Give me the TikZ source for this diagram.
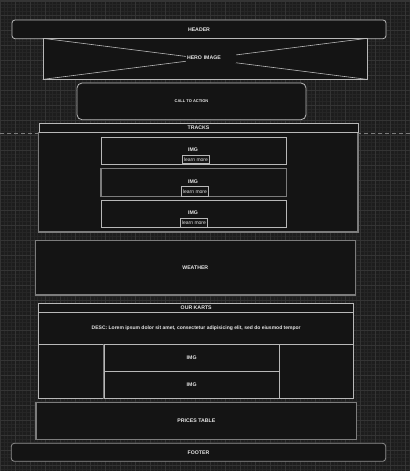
\documentclass[tikz,border=0pt]{standalone}
\usepackage{fontspec}
\setmainfont{Liberation Sans}
\begin{document}
\definecolor{canvas}{HTML}{1D1D1D}
\definecolor{gridminor}{HTML}{262626}
\definecolor{gridmajor}{HTML}{343434}
\definecolor{boxfill}{HTML}{141414}
\definecolor{edgelight}{HTML}{B8B8B8}
\definecolor{edgegray}{HTML}{7C7C7C}
\definecolor{labelcol}{HTML}{E6E6E6}
\begin{tikzpicture}[x=1pt,y=-1pt,
  frame/.style={draw=edgelight, line width=0.8pt, fill=boxfill, inner sep=0pt,
    font=\bfseries\fontsize{5.2}{6}\selectfont, text=labelcol},
  heavyframe/.style={frame, draw=edgegray, line width=1.4pt},
  roundframe/.style={frame, rounded corners=3pt},
  button/.style={draw=edgelight, line width=0.6pt, fill=boxfill, inner sep=0pt,
    font=\fontsize{5}{6}\selectfont, text=labelcol},
  caption/.style={font=\bfseries\fontsize{5.2}{6}\selectfont, text=labelcol, inner sep=0pt},
  fold/.style={draw=edgegray, line width=0.8pt, dash pattern=on 4pt off 3pt}]
% canvas and grid
\fill[canvas] (0,0) rectangle (410,471);
\useasboundingbox (0,0) rectangle (410,471);
\draw[gridminor, line width=0.3pt, step=3.75pt] (0,0) grid (410,471);
\draw[gridmajor, line width=0.4pt, step=15pt] (0,0) grid (410,471);
\draw[gridmajor, line width=1pt] (0,1.5) -- (410,1.5);
% fold line
\coordinate (foldL) at (0,133.3);
\coordinate (foldR) at (410,133.3);
\draw[fold] (foldL) -- (foldR);
% header
\node[roundframe, minimum width=374pt, minimum height=18.7pt] (header) at (199,29.35) {HEADER};
% hero image with cross
\node[frame, minimum width=324pt, minimum height=40.3pt] (hero) at (205,58.85) {};
\draw[edgelight, line width=0.6pt] (hero.north west) -- (hero.south east);
\draw[edgelight, line width=0.6pt] (hero.south west) -- (hero.north east);
\node[caption, fill=boxfill, text width=48pt, inner xsep=1pt, inner ysep=3pt, align=left] (herolabel) at (211,58) {HERO IMAGE};
% call to action
\node[frame, rounded corners=5pt, minimum width=229pt, minimum height=36.7pt,
  font=\bfseries\fontsize{4}{5}\selectfont] (cta) at (191.5,101.35) {CALL TO ACTION};
% tracks
\node[heavyframe, minimum width=319.3pt, minimum height=99.3pt] (tracks) at (198.35,182.35) {};
\node[frame, minimum width=319pt, minimum height=9pt] (trackshead) at (198.5,128.2) {TRACKS};
\node[frame, minimum width=185.7pt, minimum height=27pt] (trackA) at (193.85,150.8) {};
\node[heavyframe, minimum width=185.7pt, minimum height=27.6pt] (trackB) at (193.85,182.5) {};
\node[frame, minimum width=185.7pt, minimum height=27.4pt] (trackC) at (193.85,214) {};
\node[caption] (imgA) at (193,150) {IMG};
\node[caption] (imgB) at (193,182) {IMG};
\node[caption] (imgC) at (193,213) {IMG};
\node[button, minimum width=27.4pt, minimum height=8.4pt] (moreA) at (196,159.5) {learn more};
\node[button, minimum width=27.4pt, minimum height=9.6pt] (moreB) at (195,191.5) {learn more};
\node[button, minimum width=27.4pt, minimum height=9pt] (moreC) at (194,222.8) {learn more};
% weather
\node[heavyframe, minimum width=320pt, minimum height=54.3pt] (weather) at (195.3,267.85) {WEATHER};
% our karts
\node[frame, minimum width=315pt, minimum height=9pt] (kartshead) at (196.2,308.2) {OUR KARTS};
\node[frame, minimum width=315pt, minimum height=31.6pt, font=\bfseries\fontsize{5}{6}\selectfont] (desc) at (196.2,328.5)
  {DESC: Lorem ipsum dolor sit amet, consectetur adipisicing elit, sed do eiusmod tempor};
\node[frame, minimum width=315pt, minimum height=54.4pt] (kartsbody) at (196.2,371.5) {};
\node[frame, minimum width=175.3pt, minimum height=27pt] (kartimgA) at (191.65,357.8) {IMG};
\node[frame, minimum width=175.3pt, minimum height=27.4pt] (kartimgB) at (191.65,385) {IMG};
\draw[edgegray, line width=1.4pt] (kartimgA.north west) -- (kartimgB.south west);
% prices
\node[heavyframe, minimum width=320.7pt, minimum height=37pt] (prices) at (196.35,420.8) {PRICES TABLE};
% footer
\node[roundframe, draw=edgegray!70!edgelight, minimum width=374.4pt, minimum height=18pt] (footer) at (198.5,452.3) {FOOTER};
\end{tikzpicture}
\end{document}
